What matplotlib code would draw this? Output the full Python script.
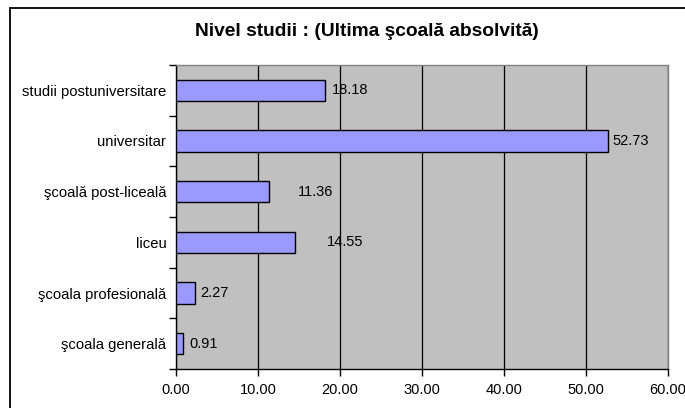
import matplotlib
matplotlib.use("Agg")
import matplotlib.pyplot as plt
from matplotlib.patches import Rectangle

plt.rcParams['font.family'] = ['Liberation Sans', 'DejaVu Sans']

# date (de jos in sus)
categorii = ['şcoala generală', 'şcoala profesională', 'liceu',
             'şcoală post-liceală', 'universitar', 'studii postuniversitare']
procente = [0.91, 2.27, 14.55, 11.36, 52.73, 18.18]
etichete = ['0.91', '2.27', '14.55', '11.36', '52.73', '18.18']
x_ticks = [0, 10, 20, 30, 40, 50, 60]

# deplasarea etichetelor fata de capatul barei (puncte)
pad_etichete = [4, 4, 23, 21, 3, 5]

fig = plt.figure(figsize=(6.85, 4.08), dpi=100)
fig.patch.set_facecolor('white')

# chenarul exterior
fig.patches.append(Rectangle((10 / 685, -0.05), 1.0, 1 - 8 / 408 + 0.05,
                             transform=fig.transFigure, fill=False,
                             edgecolor='black', linewidth=1.3))

ax = fig.add_axes([176 / 685, 1 - 369 / 408, (668 - 176) / 685, (369 - 65) / 408])
ax.set_facecolor('#C0C0C0')

y = range(len(categorii))
ax.barh(y, procente, height=0.42, color='#9999FF', edgecolor='black', linewidth=1.0, zorder=3)

for i in y:
    ax.annotate(etichete[i], (procente[i], i), xytext=(pad_etichete[i], 0),
                textcoords='offset points', va='center', ha='left', fontsize=10.5, zorder=4)

ax.set_xlim(0, 60)
ax.set_ylim(-0.5, len(categorii) - 0.5)
ax.set_xticks(x_ticks)
ax.set_xticklabels(['%.2f' % v for v in x_ticks], fontsize=10.5)
ax.set_yticks(list(y))
ax.set_yticklabels(categorii, fontsize=10.7)
ax.set_yticks([i - 0.5 for i in range(len(categorii) + 1)], minor=True)
ax.tick_params(axis='y', which='major', length=0, pad=7)
ax.tick_params(axis='y', which='minor', length=5, width=1, direction='out')
ax.tick_params(axis='x', length=5, width=1, direction='out', pad=5)

ax.grid(axis='x', color='black', linewidth=0.9, zorder=1)
ax.set_axisbelow(True)

ax.spines['top'].set_color('#808080')
ax.spines['right'].set_color('#808080')
ax.spines['left'].set_color('black')
ax.spines['bottom'].set_color('black')
for s in ax.spines.values():
    s.set_linewidth(1.0)

fig.text(367 / 685, 1 - 32 / 408, 'Nivel studii : (Ultima şcoală absolvită)',
         ha='center', va='center', fontsize=13.8, fontweight='bold')

fig.savefig('out.png', dpi=100)
